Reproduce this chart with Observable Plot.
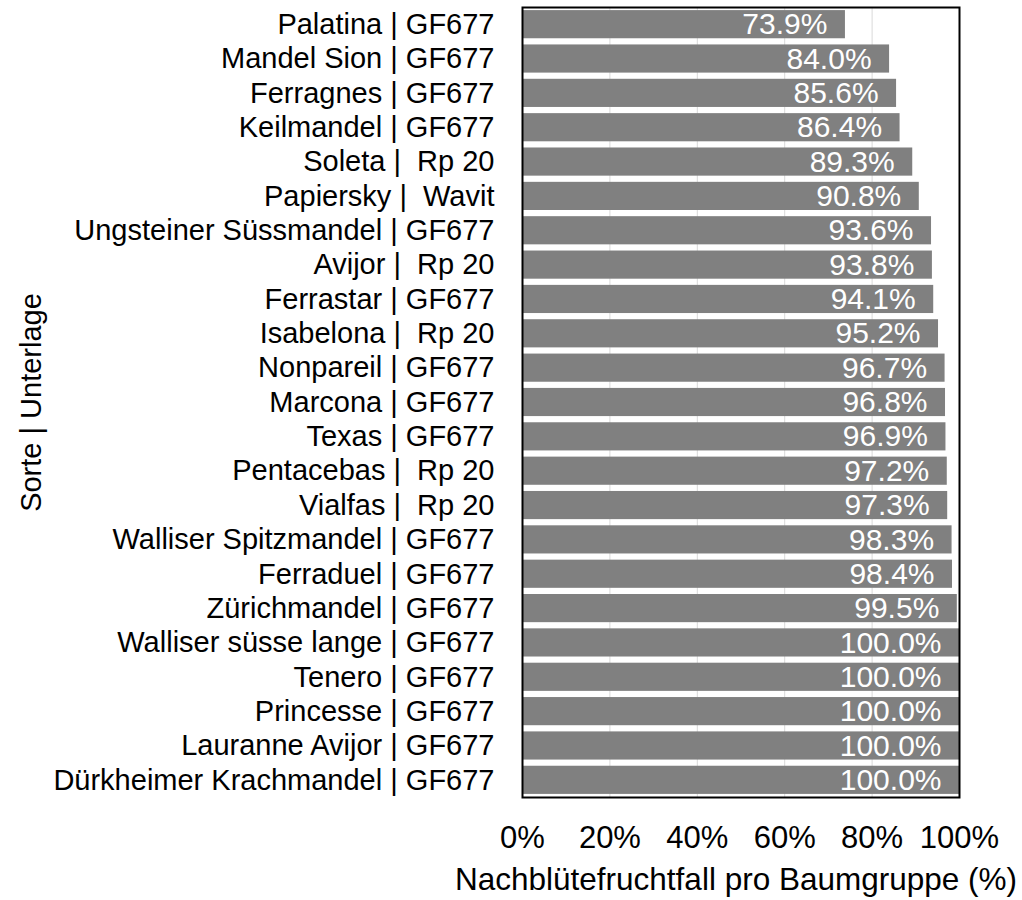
<!DOCTYPE html>
<html>
<head>
<meta charset="utf-8">
<script src="https://cdn.jsdelivr.net/npm/d3@7"></script>
<script src="https://cdn.jsdelivr.net/npm/@observablehq/plot@0.6"></script>
<style>
  html, body { margin: 0; padding: 0; background: white; }
  svg text { white-space: pre; }
</style>
</head>
<body>
<div id="chart"></div>
<script>
const categories = [
  "Palatina | GF677",
  "Mandel Sion | GF677",
  "Ferragnes | GF677",
  "Keilmandel | GF677",
  "Soleta |  Rp 20",
  "Papiersky |  Wavit",
  "Ungsteiner Süssmandel | GF677",
  "Avijor |  Rp 20",
  "Ferrastar | GF677",
  "Isabelona |  Rp 20",
  "Nonpareil | GF677",
  "Marcona | GF677",
  "Texas | GF677",
  "Pentacebas |  Rp 20",
  "Vialfas |  Rp 20",
  "Walliser Spitzmandel | GF677",
  "Ferraduel | GF677",
  "Zürichmandel | GF677",
  "Walliser süsse lange | GF677",
  "Tenero | GF677",
  "Princesse | GF677",
  "Lauranne Avijor | GF677",
  "Dürkheimer Krachmandel | GF677"
];
const values = [73.9, 84.0, 85.6, 86.4, 89.3, 90.8, 93.6, 93.8, 94.1, 95.2, 96.7, 96.8, 96.9, 97.2, 97.3, 98.3, 98.4, 99.5, 100.0, 100.0, 100.0, 100.0, 100.0];
const xTicks = [0, 20, 40, 60, 80, 100];
const xLabel = "Nachblütefruchtfall pro Baumgruppe (%)";
const yLabel = "Sorte | Unterlage";

const data = categories.map((c, i) => ({name: c, value: values[i]}));

const chart = Plot.plot({
  width: 1022,
  height: 900,
  marginLeft: 522,
  marginRight: 63,
  marginTop: 7,
  marginBottom: 103,
  style: {fontFamily: "'Liberation Sans', Arial, sans-serif", fontSize: "30px", background: "white", color: "black"},
  x: {domain: [0, 100]},
  y: {domain: categories, paddingInner: 0.18, paddingOuter: 0.09, round: false},
  marks: [
    Plot.gridX([20, 40, 60, 80], {stroke: "#d9d9d9", strokeOpacity: 1, strokeWidth: 1}),
    Plot.barX(data, {x: "value", y: "name", fill: "#808080"}),
    Plot.text(data, {x: "value", y: "name", text: d => d.value.toFixed(1) + "%", fill: "white", textAnchor: "end", dx: -18, fontSize: 30}),
    Plot.frame({stroke: "black", strokeWidth: 2}),
    Plot.axisX(xTicks, {tickSize: 0, tickPadding: 28, tickFormat: d => d + "%", fontSize: 31, label: null}),
    Plot.text([xLabel], {frameAnchor: "bottom", dy: 92, dx: -5, fontSize: 31.5, fill: "black"}),
    Plot.axisY({tickSize: 0, tickPadding: 28, fontSize: 29, label: yLabel, labelAnchor: "center", labelOffset: 502})
  ]
});
document.getElementById("chart").appendChild(chart);
</script>
</body>
</html>
